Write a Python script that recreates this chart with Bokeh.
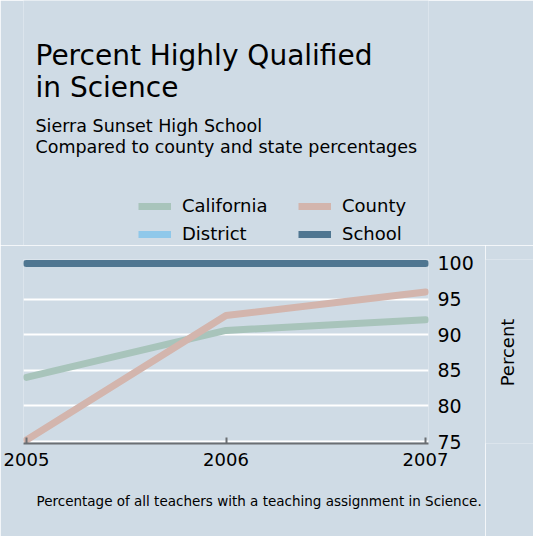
import math
from bokeh.plotting import figure
from bokeh.layouts import column, row
from bokeh.models import Range1d, FixedTicker, Title, Legend, LegendItem, Label
from bokeh.embed import file_html
from bokeh.resources import INLINE

years = [2005, 2006, 2007]
california = [84.0, 90.6, 92.1]
county = [75.2, 92.7, 96.0]
district = [math.nan, math.nan, math.nan]   # no District values shown
school = [100, 100, 100]
y_ticks = [75, 80, 85, 90, 95, 100]

title_lines = ["Percent Highly Qualified", "in Science"]
subtitle_lines = ["Sierra Sunset High School", "Compared to county and state percentages"]
footer = "Percentage of all teachers with a teaching assignment in Science."
y_label = "Percent"
series_names = ["California", "District", "County", "School"]
series_colors = ["#a8c4bb", "#8fc8ea", "#d3b5ad", "#4f7691"]

BG = "#cfdbe5"
FONT = "DejaVu Sans"
W = 533
H_TOTAL = 536
HEAD_H = 245
SIDE_W = 48
LW = 7

def style_blank(fig):
    fig.title.visible = False
    fig.background_fill_color = BG
    fig.border_fill_color = BG
    fig.outline_line_color = None
    fig.xgrid.visible = False
    fig.ygrid.visible = False

# ---------------- header: titles + legend ----------------
h = figure(width=W, height=HEAD_H, output_backend="svg", toolbar_location=None,
           x_range=Range1d(0, 1), y_range=Range1d(0, 1),
           x_axis_location=None, y_axis_location=None,
           min_border_left=23, min_border_right=105, min_border_top=0, min_border_bottom=0)
style_blank(h)

def add_text(txt, base_y, size_px):
    # base_y: wanted baseline, in px from the top of the header
    h.add_layout(Label(x=12, y=HEAD_H - base_y + 0.36 * size_px, x_units="screen", y_units="screen",
                       text=txt, text_font=FONT, text_font_size=f"{size_px}px", text_color="black",
                       text_baseline="alphabetic", text_align="left"))

add_text(title_lines[0], 65, 28)
add_text(title_lines[1], 97, 28)
add_text(subtitle_lines[0], 132, 17.5)
add_text(subtitle_lines[1], 153, 17.5)

series_data = {"California": california, "District": district, "County": county, "School": school}
items = []
for name, col in zip(series_names, series_colors):
    r = h.line(years, [math.nan] * len(years), line_color=col, line_width=LW, line_cap="butt")
    items.append(LegendItem(label=name, renderers=[r]))

legend = Legend(items=items, ncols=2, location=(115, 1),
                padding=0, margin=0, spacing=7,
                glyph_width=33, glyph_height=8, label_standoff=11,
                label_width=109, label_height=20,
                label_text_font=FONT, label_text_font_size="18px", label_text_color="black",
                background_fill_alpha=0, border_line_color=None)
h.add_layout(legend, "center")

# ---------------- main chart ----------------
BODY_H = H_TOTAL - HEAD_H
p = figure(width=W - SIDE_W, height=BODY_H, output_backend="svg", toolbar_location=None,
           x_range=Range1d(2004.985, 2007.015), y_range=Range1d(74.72, 100.56),
           y_axis_location="right",
           min_border_left=23, min_border_right=105 - SIDE_W, min_border_top=14, min_border_bottom=93)
p.title.visible = False
p.background_fill_color = BG
p.border_fill_color = BG
p.outline_line_color = None

p.xgrid.grid_line_color = None
p.ygrid.ticker = FixedTicker(ticks=y_ticks)
p.ygrid.grid_line_color = "white"
p.ygrid.grid_line_width = 2

xa = p.xaxis[0]
xa.ticker = FixedTicker(ticks=years)
xa.axis_line_color = "#6b6f73"
xa.axis_line_width = 2
xa.major_tick_in = 6
xa.major_tick_out = 0
xa.major_tick_line_color = "#6b6f73"
xa.major_tick_line_width = 2
xa.minor_tick_line_color = None
xa.major_label_text_font = FONT
xa.major_label_text_font_size = "18px"
xa.major_label_text_color = "black"
xa.major_label_standoff = 9

ya = p.yaxis[0]
ya.ticker = FixedTicker(ticks=y_ticks)
ya.axis_line_color = None
ya.major_tick_line_color = None
ya.major_tick_in = 0
ya.major_tick_out = 0
ya.minor_tick_line_color = None
ya.minor_tick_in = 0
ya.minor_tick_out = 0
ya.major_label_text_font = FONT
ya.major_label_text_font_size = "19px"
ya.major_label_text_color = "black"
ya.major_label_standoff = 9

for name, col in zip(series_names, series_colors):
    p.line(years, series_data[name], line_color=col, line_width=LW,
           line_cap="round", line_join="round")

foot = Title(text=footer, text_font=FONT, text_font_size="13.5px", text_font_style="normal",
             text_color="black", align="left", offset=13, standoff=44)
p.add_layout(foot, "below")

# ---------------- side strip holding the y-axis title ----------------
s = figure(width=SIDE_W, height=BODY_H, output_backend="svg", toolbar_location=None,
           x_range=Range1d(0, 1), y_range=Range1d(0, 1),
           x_axis_location=None, y_axis_location=None,
           min_border_left=0, min_border_right=0, min_border_top=14, min_border_bottom=93)
style_blank(s)
s.add_layout(Label(x=21.5, y=91, x_units="screen", y_units="screen", text=y_label,
                   angle=math.pi / 2, text_font=FONT, text_font_size="18px", text_color="black",
                   text_align="center", text_baseline="middle"))

layout = column(h, row(p, s, spacing=0), spacing=0)
open("out.html", "w").write(file_html(layout, INLINE))
